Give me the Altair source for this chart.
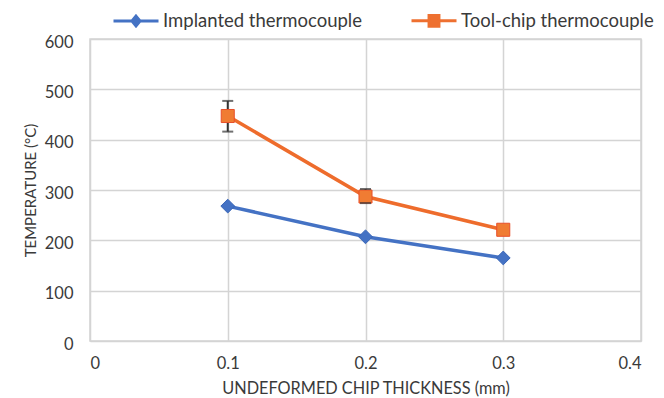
import altair as alt
import pandas as pd

# ---- data ----
thickness = [0.1, 0.2, 0.3]
implanted = [268, 207, 165]
toolchip = [447, 287, 221]
err_x = [0.1, 0.2]
err_lo = [416, 274]
err_hi = [477, 302]
series_names = ["Implanted  thermocouple", "Tool-chip thermocouple"]
colors = ["#4472C4", "#EE7030"]
x_ticks = [0, 0.1, 0.2, 0.3, 0.4]
y_ticks = [0, 100, 200, 300, 400, 500, 600]

df = pd.DataFrame({
    "x": thickness + thickness,
    "temp": implanted + toolchip,
    "series": [series_names[0]] * 3 + [series_names[1]] * 3,
})
err_df = pd.DataFrame({"x": err_x, "lo": err_lo, "hi": err_hi})

FONT = "Lato"
GRID = "#D4D4D4"
TXT = "#3A3A3A"

xscale = alt.Scale(domain=[0, 0.4], nice=False)
yscale = alt.Scale(domain=[0, 600], nice=False)
xaxis = alt.Axis(values=x_ticks, format="~g", title="UNDEFORMED CHIP THICKNESS (mm)")
yaxis = alt.Axis(values=y_ticks, title="TEMPERATURE (°C)")
xenc = alt.X("x:Q", scale=xscale, axis=xaxis)
yenc = alt.Y("temp:Q", scale=yscale, axis=yaxis)
ylo = alt.Y("lo:Q", scale=yscale, axis=yaxis)
yhi = alt.Y("hi:Q", scale=yscale, axis=yaxis)
cscale = alt.Scale(domain=series_names, range=colors)

leg = alt.Legend(
    orient="none", legendX=22, legendY=-42.5, direction="horizontal",
    title=None, symbolSize=2025, symbolStrokeWidth=3, symbolOpacity=1,
    labelFont=FONT, labelFontSize=18.5, labelColor=TXT, labelLimit=400,
    labelOffset=3, columnPadding=38, padding=0,
)

base = alt.Chart(df)
imp = base.transform_filter(alt.datum.series == series_names[0])
tc = base.transform_filter(alt.datum.series == series_names[1])

line_imp = imp.mark_line(strokeWidth=3.5, color=colors[0]).encode(x=xenc, y=yenc)
line_tc = tc.mark_line(strokeWidth=3.5, color="#EE6C2C").encode(x=xenc, y=yenc)

eb = alt.Chart(err_df)
err_rule = eb.mark_rule(color="#333333", strokeWidth=2).encode(x=xenc, y=ylo, y2="hi:Q")
err_lo_t = eb.mark_tick(color="#333333", thickness=2, size=11,
                        orient="horizontal").encode(x=xenc, y=ylo)
err_hi_t = eb.mark_tick(color="#333333", thickness=2, size=11,
                        orient="horizontal").encode(x=xenc, y=yhi)

diam = imp.mark_point(
    filled=True, shape="diamond", size=190, opacity=1, color=colors[0],
    stroke="#3A66B8", strokeWidth=1
).encode(x=xenc, y=yenc)

sq = tc.mark_point(
    filled=True, shape="square", size=170, opacity=1, color="#F07C33",
    stroke="#E8502A", strokeWidth=1
).encode(x=xenc, y=yenc)

leg_paths = [
    "M-1,0L1,0M0,-0.22L0.18,0L0,0.22L-0.18,0Z",
    "M-1,0L1,0M-0.22,-0.24L0.22,-0.24L0.22,0.24L-0.22,0.24Z",
]
legend_layer = base.mark_point(filled=False, opacity=0).encode(
    x=xenc, y=yenc,
    color=alt.Color("series:N", scale=cscale, legend=leg),
    fill=alt.Fill("series:N", scale=cscale, legend=leg),
    shape=alt.Shape("series:N", scale=alt.Scale(domain=series_names, range=leg_paths),
                    legend=leg),
)

chart = alt.layer(line_imp, line_tc, err_rule, diam, sq, err_lo_t, err_hi_t,
                  legend_layer).properties(
    width=551, height=302,
    autosize=alt.AutoSizeParams(type="none"),
    padding={"left": 90, "top": 39, "right": 23, "bottom": 57},
    background="white",
).configure_view(stroke=GRID, strokeWidth=1.5).configure_axis(
    grid=True, gridColor=GRID, gridWidth=1.5, domain=False, ticks=False,
    labelFont=FONT, labelFontSize=16.5, labelColor=TXT,
    titleFont=FONT, titleColor=TXT, titleFontWeight="normal",
).configure_axisX(labelPadding=14, titlePadding=9, titleFontSize=16.3).configure_axisY(
    labelPadding=17, titlePadding=6, titleFontSize=15, labelOffset=3)

chart.save("out.html", embed_options={"renderer": "svg", "actions": False})
